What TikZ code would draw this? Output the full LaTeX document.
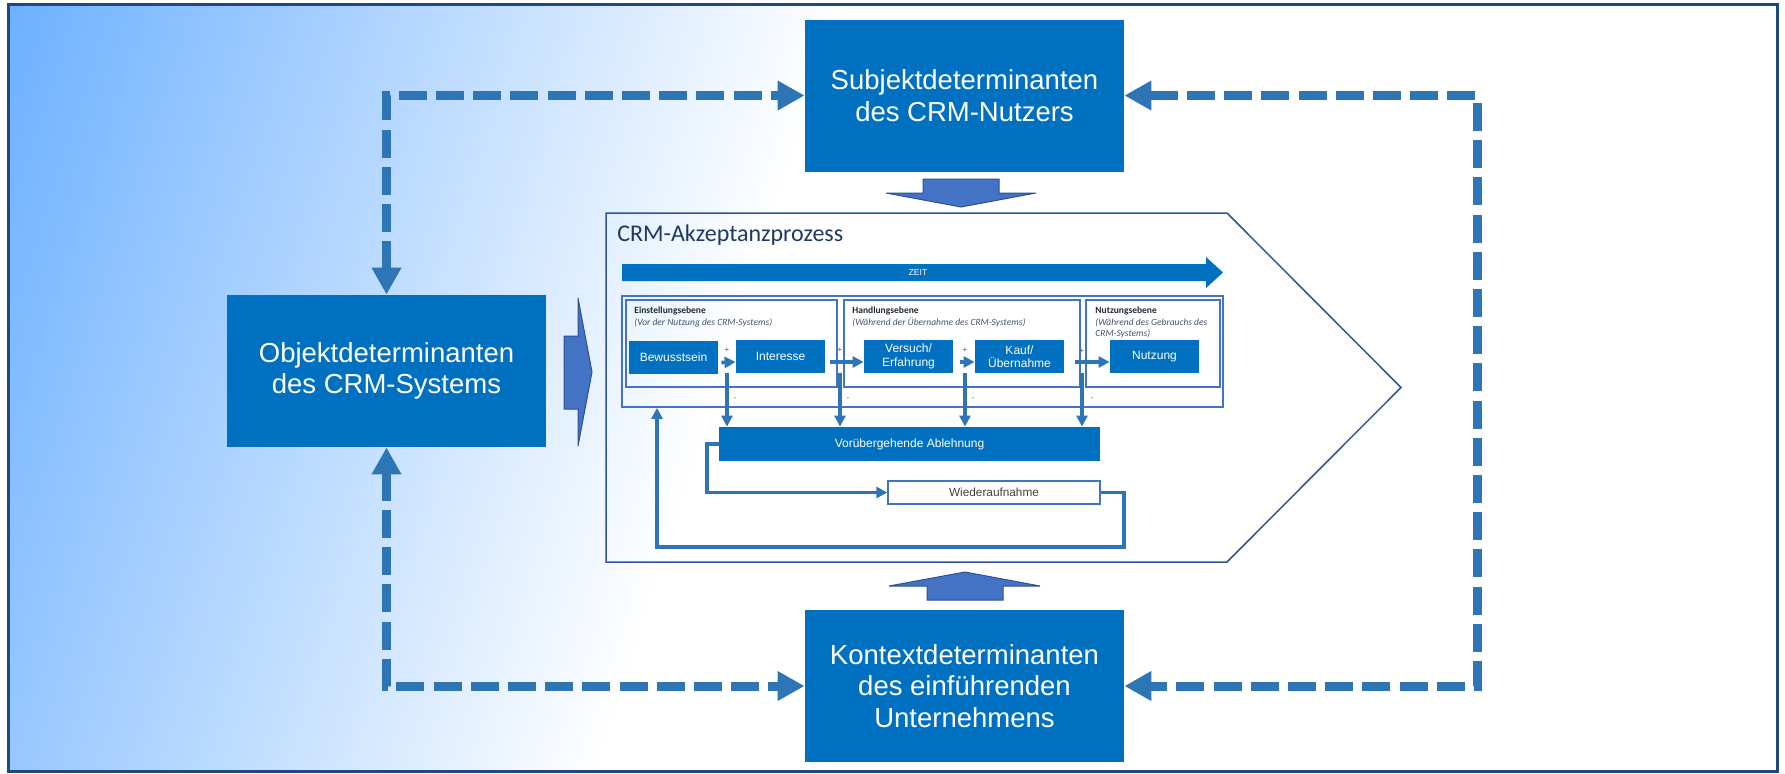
\documentclass[tikz,border=0pt]{standalone}
\usepackage{fontspec}
\setmainfont{Liberation Sans}
\newfontfamily\calib{Carlito}
\usetikzlibrary{arrows.meta,calc}

\definecolor{cblue}{RGB}{0,112,192}
\definecolor{lineblue}{RGB}{46,117,182}
\definecolor{blockfill}{RGB}{68,114,196}
\definecolor{blockdraw}{RGB}{47,82,143}
\definecolor{navy}{RGB}{47,85,151}
\definecolor{framec}{RGB}{31,73,125}
\definecolor{titlec}{RGB}{31,56,100}
\definecolor{headc}{RGB}{34,42,53}
\definecolor{subc}{RGB}{68,84,106}
\definecolor{wiedc}{RGB}{64,64,64}
\definecolor{pmc}{RGB}{89,89,89}
\definecolor{gradA}{RGB}{104,174,255}
\definecolor{gradB}{RGB}{160,205,255}

\begin{document}
\begin{tikzpicture}[x=0.5pt,y=-0.5pt,
  bigbox/.style={fill=cblue, text=white, minimum width=159.5pt, minimum height=76pt,
    inner sep=0pt, align=center, font=\fontsize{13.75pt}{15.75pt}\selectfont},
  stagebox/.style={fill=cblue, text=white, minimum width=44.5pt, minimum height=16.5pt,
    inner sep=0pt, align=center, font=\fontsize{6pt}{6.75pt}\selectfont},
  lvlbox/.style={draw=blockfill, line width=0.9pt, inner sep=0pt},
  head/.style={anchor=north west, inner sep=0pt, align=left,
    font=\calib\fontsize{4.75pt}{5.75pt}\selectfont},
  pm/.style={inner sep=0pt, text=pmc, font=\fontsize{4pt}{4pt}\selectfont},
  flow/.style={draw=lineblue, line width=1.8pt, arrows={-Triangle[length=5.5pt,width=5.5pt]}},
  dashflow/.style={draw=lineblue, line width=4.5pt, dash pattern=on 14pt off 4.6pt,
    arrows={Triangle[length=13.5pt,width=14pt]-Triangle[length=13.5pt,width=14pt]}},
  blockarrow/.style={fill=blockfill, draw=blockdraw, line width=0.5pt, line join=miter}
]
\useasboundingbox (0,0) rectangle (1785,773);

% background with diagonal blue-to-white gradient
\fill[white] (8,4) rectangle (1777,771);
\begin{scope}
  \clip (8,4) rectangle (1777,771);
  \begin{scope}[transform canvas={rotate around={-17.7:(700,388)}}]
    \shade[left color=gradA, middle color=gradB, right color=white]
      (-100,-900) rectangle (720,1700);
  \end{scope}
\end{scope}
\draw[framec, line width=1.5pt] (8,4) rectangle (1777,771);

% process pentagon
\draw[navy, line width=0.75pt, line join=miter]
  (606,213) -- (1227,213) -- (1401,387.5) -- (1227,562) -- (606,562) -- cycle;
\node[anchor=base west, inner sep=0pt, text=titlec,
  font=\calib\fontsize{12pt}{14pt}\selectfont] (title) at (617,241) {CRM-Akzeptanzprozess};

% time arrow
\fill[cblue] (622,264) -- (1206,264) -- (1206,257) -- (1223,272.5) -- (1206,288)
  -- (1206,281) -- (622,281) -- cycle;
\node[inner sep=0pt, text=white, font=\fontsize{4.3pt}{5pt}\selectfont] (zeit) at (918,272.5) {ZEIT};

% levels
\node[lvlbox, minimum width=300.5pt, minimum height=55.5pt] (cont) at (922.5,351.5) {};
\node[lvlbox, minimum width=105.5pt, minimum height=43.5pt] (e1) at (731.5,343.5) {};
\node[lvlbox, minimum width=118pt, minimum height=43.5pt] (e2) at (962,343.5) {};
\node[lvlbox, minimum width=67pt, minimum height=43.5pt] (e3) at (1153,343.5) {};

\node[head] (h1) at (634,306.5) {\textbf{\textcolor{headc}{Einstellungsebene}}\\
  \textit{\textcolor{subc}{(Vor der Nutzung des CRM-Systems)}}};
\node[head] (h2) at (852,306.5) {\textbf{\textcolor{headc}{Handlungsebene}}\\
  \textit{\textcolor{subc}{(Während der Übernahme des CRM-Systems)}}};
\node[head] (h3) at (1095,306.5) {\textbf{\textcolor{headc}{Nutzungsebene}}\\
  \textit{\textcolor{subc}{(Während des Gebrauchs des}}\\
  \textit{\textcolor{subc}{CRM-Systems)}}};

% stages
\node[stagebox] (bew) at (673.5,357) {Bewusstsein};
\node[stagebox] (int) at (780.5,356.5) {Interesse};
\node[stagebox] (ver) at (908.5,356.5) {Versuch/\\Erfahrung};
\node[stagebox] (kauf) at (1019.5,356.5) {Kauf/\\Übernahme};
\node[stagebox] (nutz) at (1154.5,356.5) {Nutzung};

\draw[flow] ([xshift=1.5pt,yshift=-2.75pt]bew.east) -- ([yshift=-2.75pt]int.west);
\draw[flow] ([xshift=2.5pt,yshift=-2.75pt]int.east) -- ([yshift=-2.75pt]ver.west);
\draw[flow] ([xshift=3.5pt,yshift=-2.75pt]ver.east) -- ([yshift=-2.75pt]kauf.west);
\draw[flow] ([xshift=5.5pt,yshift=-2.75pt]kauf.east) -- ([yshift=-2.75pt]nutz.west);

% rejection and resumption
\node[stagebox, minimum width=190.5pt, minimum height=17pt] (abl) at (909.5,444) {Vorübergehende Ablehnung};
\node[draw=blockfill, fill=white, line width=0.7pt, minimum width=106pt, minimum height=11.5pt,
  inner sep=0pt, text=wiedc, font=\fontsize{5.9pt}{7pt}\selectfont] (wied) at (994,492.5) {Wiederaufnahme};

\coordinate (j1) at (727,373);
\coordinate (j2) at (840,373);
\coordinate (j3) at (965,373);
\coordinate (j4) at (1082,373);
\foreach \j in {j1,j2,j3,j4} \draw[flow] (\j) -- (\j |- abl.north);

\node[pm] (p1) at (727,350) {+};
\node[pm] (p2) at (840,350) {+};
\node[pm] (p3) at (965,350) {+};
\node[pm] (p4) at (1082,351) {+};
\node[pm] (m1) at (735,399) {-};
\node[pm] (m2) at (848,399) {-};
\node[pm] (m3) at (973,399) {-};
\node[pm] (m4) at (1092,399) {-};

\coordinate (wl) at (707,0);
\draw[flow] (abl.west) -| (wl |- wied.west) -- (wied.west);
\coordinate (br) at (1124,547);
\coordinate (bl) at (657,547);
\draw[flow] (wied.east) -| (br) -- (bl) -- (bl |- cont.south);

% determinant boxes
\node[bigbox] (subj) at (964.5,95.5) {Subjektdeterminanten\\des CRM-Nutzers};
\node[bigbox] (obj) at (386.5,371) {Objektdeterminanten\\des CRM-Systems};
\node[bigbox] (kon) at (964.5,686) {Kontextdeterminanten\\des einführenden\\Unternehmens};

% block arrows into the process
\draw[blockarrow] (923,179) -- (999,179) -- (999,193) -- (1036,193) -- (961,207)
  -- (886,193) -- (923,193) -- cycle;
\draw[blockarrow] (927,600) -- (1003,600) -- (1003,586) -- (1040,586) -- (965,572)
  -- (889,586) -- (927,586) -- cycle;
\draw[blockarrow] (564,336) -- (578,336) -- (578,298) -- (592,372) -- (578,446)
  -- (578,409) -- (564,409) -- cycle;

% mutual influences
\draw[dashflow] (obj.north) |- (subj.west);
\draw[dashflow] (obj.south) |- (kon.west);
\coordinate (rc) at (1477,0);
\draw[dashflow] (subj.east) -| (rc |- kon.east) -- (kon.east);
\end{tikzpicture}
\end{document}
